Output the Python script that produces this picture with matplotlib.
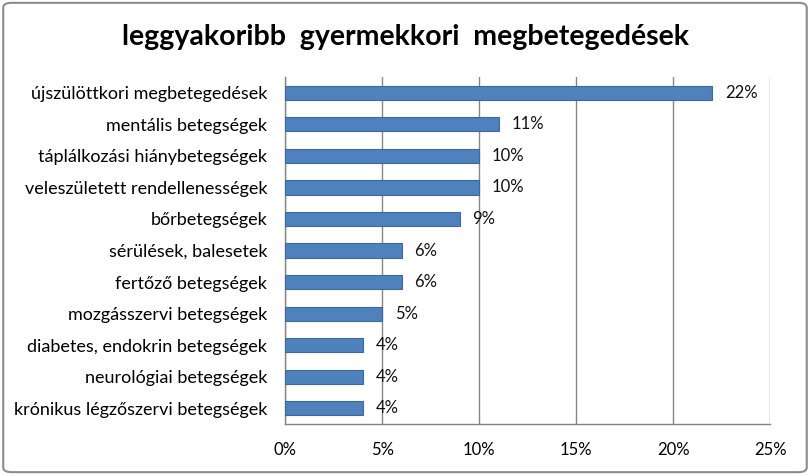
import matplotlib
matplotlib.use("Agg")
import matplotlib.pyplot as plt
import matplotlib.ticker as ticker
from matplotlib.patches import FancyBboxPatch

categories = ['újszülöttkori megbetegedések', 'mentális betegségek', 'táplálkozási hiánybetegségek',
              'veleszületett rendellenességek', 'bőrbetegségek', 'sérülések, balesetek',
              'fertőző betegségek', 'mozgásszervi betegségek', 'diabetes, endokrin betegségek',
              'neurológiai betegségek', 'krónikus légzőszervi betegségek']
values = [22, 11, 10, 10, 9, 6, 6, 5, 4, 4, 4]
title = 'leggyakoribb  gyermekkori  megbetegedések'

plt.rcParams['font.family'] = ['Lato', 'DejaVu Sans']

fig = plt.figure(figsize=(8.1, 4.75), dpi=100)
ax = fig.add_axes([0.352, 0.107, 0.599, 0.731])

pos = list(range(len(categories)))
ax.barh(pos, values, height=0.45, color='#4F81BD', edgecolor='#3C6A9E', linewidth=0.8, zorder=3)
for p, v in zip(pos, values):
    ax.text(v + 0.65, p, '%d%%' % v, va='center', ha='left', fontsize=12, color='#111111')

ax.set_ylim(len(categories) - 0.5, -0.5)
ax.set_xlim(0, 25)
ax.set_yticks(pos)
ax.set_yticklabels(categories, fontsize=13)
ax.xaxis.set_major_locator(ticker.MultipleLocator(5))
ax.xaxis.set_major_formatter(ticker.FuncFormatter(lambda x, p: '%d%%' % x))
ax.tick_params(axis='x', labelsize=12, length=0, pad=13)
ax.tick_params(axis='y', length=0, pad=13)
ax.grid(axis='x', color='#868686', linewidth=1, zorder=0)
for s in ['top', 'right']:
    ax.spines[s].set_visible(False)
for s in ['left', 'bottom']:
    ax.spines[s].set_color('#868686')
    ax.spines[s].set_linewidth(1)

fig.text(0.5, 0.922, title, ha='center', va='center', fontsize=20.5, fontweight='bold')

border = FancyBboxPatch((0.004, 0.006), 0.992, 0.988, boxstyle='round,pad=0,rounding_size=0.01',
                        transform=fig.transFigure, fill=False, edgecolor='#8c8c8c', linewidth=1.5)
fig.patches.append(border)

fig.savefig('out.png', dpi=100)
